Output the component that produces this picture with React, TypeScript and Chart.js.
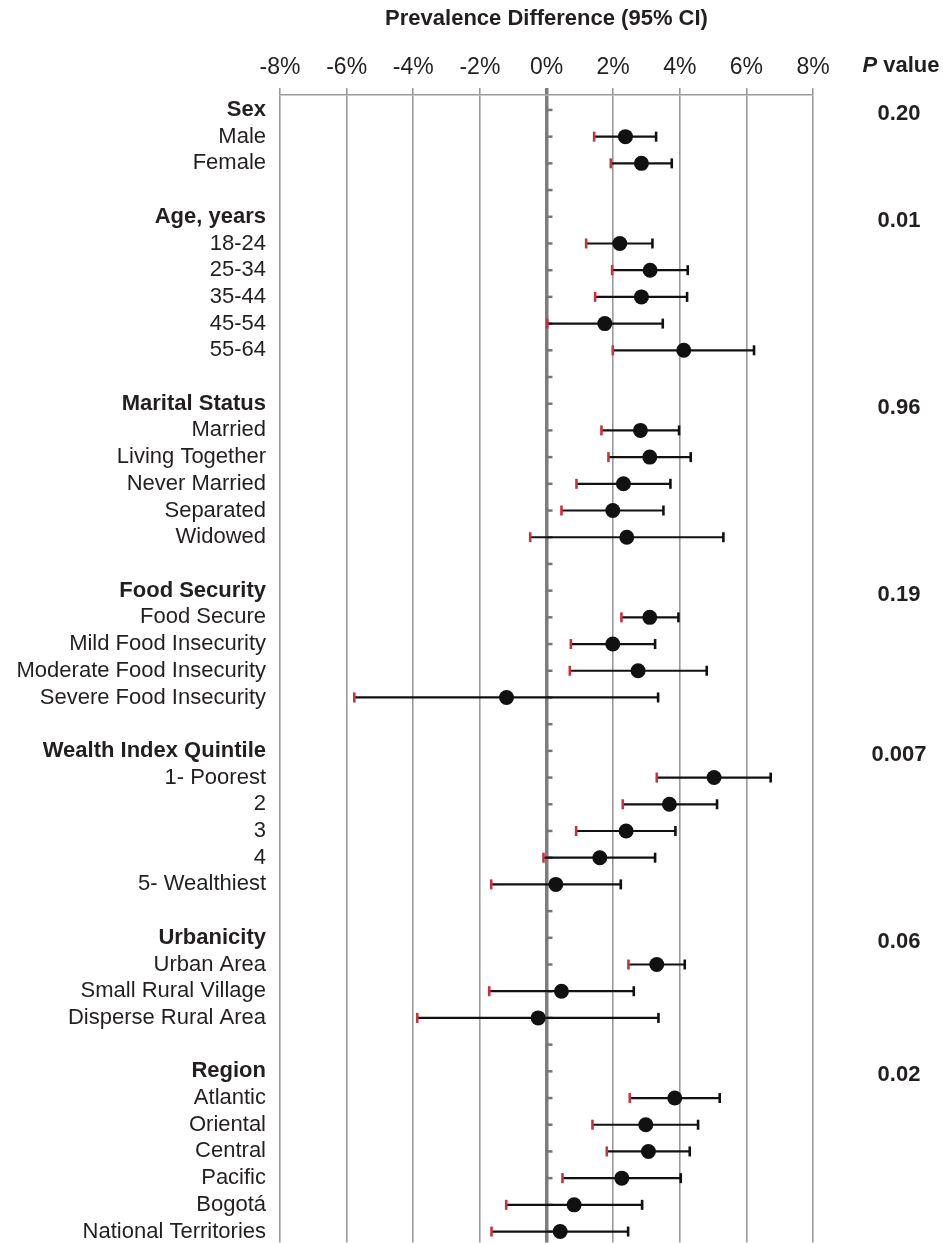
import React, { useEffect, useRef } from "react";
import { Chart, registerables } from "chart.js";

Chart.register(...registerables);

const FONT = "'Liberation Sans', Arial, Helvetica, sans-serif";
const TEXT = "#231f20";
const GRID = "#9a9a9a";
const ZERO = "#7d7d7d";
const LOWCAP = "#c8313f";

// Rows (top to bottom); "" = blank spacer row
const rowLabels = [
  "Sex", "Male", "Female", "",
  "Age, years", "18-24", "25-34", "35-44", "45-54", "55-64", "",
  "Marital Status", "Married", "Living Together", "Never Married", "Separated", "Widowed", "",
  "Food Security", "Food Secure", "Mild Food Insecurity", "Moderate Food Insecurity", "Severe Food Insecurity", "",
  "Wealth Index Quintile", "1- Poorest", "2", "3", "4", "5- Wealthiest", "",
  "Urbanicity", "Urban Area", "Small Rural Village", "Disperse Rural Area", "",
  "Region", "Atlantic", "Oriental", "Central", "Pacific", "Bogotá", "National Territories",
];

const headerRows = ["Sex", "Age, years", "Marital Status", "Food Security", "Wealth Index Quintile", "Urbanicity", "Region"];
const pValues = ["0.20", "0.01", "0.96", "0.19", "0.007", "0.06", "0.02"];

// Prevalence difference (%) and 95% CI, per row (null = header/blank)
const estimate = [
  null, 2.37, 2.85, null,
  null, 2.20, 3.11, 2.85, 1.75, 4.12, null,
  null, 2.82, 3.10, 2.31, 1.99, 2.41, null,
  null, 3.10, 1.99, 2.75, -1.20, null,
  null, 5.03, 3.69, 2.39, 1.60, 0.28, null,
  null, 3.31, 0.45, -0.25, null,
  null, 3.85, 2.98, 3.06, 2.26, 0.83, 0.41,
];
const lowerCI = [
  null, 1.43, 1.93, null,
  null, 1.19, 1.97, 1.46, 0.02, 1.99, null,
  null, 1.65, 1.86, 0.90, 0.45, -0.49, null,
  null, 2.25, 0.73, 0.70, -5.77, null,
  null, 3.31, 2.29, 0.89, -0.09, -1.66, null,
  null, 2.46, -1.72, -3.88, null,
  null, 2.50, 1.38, 1.81, 0.48, -1.21, -1.65,
];
const upperCI = [
  null, 3.29, 3.76, null,
  null, 3.18, 4.24, 4.22, 3.49, 6.23, null,
  null, 3.98, 4.33, 3.72, 3.51, 5.31, null,
  null, 3.96, 3.26, 4.81, 3.35, null,
  null, 6.73, 5.12, 3.87, 3.26, 2.23, null,
  null, 4.15, 2.62, 3.36, null,
  null, 5.20, 4.55, 4.30, 4.03, 2.87, 2.45,
];

const xTicks = [-8, -6, -4, -2, 0, 2, 4, 6, 8];

const forestPlugin = {
  id: "forest",
  beforeDatasetsDraw(chart: any) {
    const { ctx, scales } = chart;
    const xs = scales.x;
    const ys = scales.y;
    ctx.save();
    // small ticks on the zero line at every row
    const x0 = xs.getPixelForValue(0);
    ctx.strokeStyle = "#777";
    ctx.lineWidth = 2.5;
    rowLabels.forEach((_, i) => {
      const y = ys.getPixelForValue(i);
      ctx.beginPath();
      ctx.moveTo(x0, y);
      ctx.lineTo(x0 + 6, y);
      ctx.stroke();
    });
    // CI bars
    estimate.forEach((e, i) => {
      if (e === null) return;
      const y = ys.getPixelForValue(i);
      const xl = xs.getPixelForValue(lowerCI[i] as number);
      const xu = xs.getPixelForValue(upperCI[i] as number);
      ctx.strokeStyle = "#111";
      ctx.lineWidth = 2.2;
      ctx.beginPath();
      ctx.moveTo(xl, y);
      ctx.lineTo(xu, y);
      ctx.stroke();
      ctx.lineWidth = 2.6;
      ctx.beginPath();
      ctx.moveTo(xu, y - 5);
      ctx.lineTo(xu, y + 5);
      ctx.stroke();
      ctx.strokeStyle = LOWCAP;
      ctx.beginPath();
      ctx.moveTo(xl, y - 5);
      ctx.lineTo(xl, y + 5);
      ctx.stroke();
    });
    ctx.restore();
  },
  afterDraw(chart: any) {
    const { ctx, scales, chartArea } = chart;
    const ys = scales.y;
    const cx = chartArea.right + 86;
    ctx.save();
    ctx.fillStyle = TEXT;
    ctx.textBaseline = "middle";
    // "P value" header
    ctx.font = `italic bold 22px ${FONT}`;
    const wP = ctx.measureText("P").width;
    ctx.font = `bold 22px ${FONT}`;
    const wV = ctx.measureText(" value").width;
    const startX = cx + 2 - (wP + wV) / 2;
    const hy = 66;
    ctx.textAlign = "left";
    ctx.font = `italic bold 22px ${FONT}`;
    ctx.fillText("P", startX, hy);
    ctx.font = `bold 22px ${FONT}`;
    ctx.fillText(" value", startX + wP, hy);
    // p values at header rows
    ctx.textAlign = "center";
    headerRows.forEach((h, k) => {
      const idx = rowLabels.indexOf(h);
      const y = ys.getPixelForValue(idx) + 4;
      ctx.fillText(pValues[k], cx, y);
    });
    ctx.restore();
  },
};

export default function App() {
  const ref = useRef<HTMLCanvasElement | null>(null);

  useEffect(() => {
    document.body.style.margin = "0";
    const canvas = ref.current;
    if (!canvas) return;
    const points = estimate
      .map((e, i) => (e === null ? null : { x: e, y: i }))
      .filter((p) => p !== null);

    const chart = new Chart(canvas, {
      type: "scatter",
      data: {
        datasets: [
          {
            data: points as any,
            backgroundColor: "#111",
            borderWidth: 0,
            pointRadius: 7.5,
            pointHoverRadius: 7.5,
          },
        ],
      },
      plugins: [forestPlugin],
      options: {
        animation: false,
        responsive: false,
        devicePixelRatio: 1,
        events: [],
        layout: { padding: { left: 0, right: 130, top: 0, bottom: 0 } },
        plugins: { legend: { display: false }, tooltip: { enabled: false } },
        scales: {
          x: {
            type: "linear",
            position: "top",
            min: -8,
            max: 8,
            afterBuildTicks: (scale: any) => {
              scale.ticks = xTicks.map((v) => ({ value: v }));
            },
            afterFit: (scale: any) => {
              scale.height = 95;
            },
            ticks: {
              callback: (v: any) => `${v}%`,
              font: { family: FONT, size: 23 },
              color: TEXT,
              padding: 7,
              maxRotation: 0,
              autoSkip: false,
            },
            grid: {
              color: (c: any) => (c.tick && c.tick.value === 0 ? ZERO : GRID),
              lineWidth: (c: any) => (c.tick && c.tick.value === 0 ? 3.5 : 1.6),
              tickLength: 7,
              drawTicks: true,
            },
            border: { display: true, color: GRID, width: 1.6 },
            title: {
              display: true,
              text: "Prevalence Difference (95% CI)",
              font: { family: FONT, size: 22, weight: "bold" },
              color: TEXT,
              padding: { top: 6, bottom: 21 },
            },
          },
          y: {
            type: "linear",
            reverse: true,
            min: -0.56,
            max: 42.41,
            afterBuildTicks: (scale: any) => {
              scale.ticks = rowLabels.map((_, i) => ({ value: i }));
            },
            afterFit: (scale: any) => {
              scale.width = 280;
              scale.paddingTop = 0;
              scale.paddingBottom = 0;
            },
            ticks: {
              autoSkip: false,
              callback: (_v: any, i: number) => rowLabels[i],
              color: TEXT,
              padding: 14,
              font: (c: any) => ({
                family: FONT,
                size: 22,
                weight: headerRows.includes(rowLabels[c.index]) ? "bold" : "normal",
              }),
            },
            grid: { display: false, drawTicks: false },
            border: { display: false },
          },
        },
      } as any,
    });
    return () => chart.destroy();
  }, []);

  return (
    <div style={{ position: "absolute", left: 0, top: 0, width: 943, height: 1243, overflow: "hidden", background: "#fff" }}>
      <canvas ref={ref} width={943} height={1250} style={{ display: "block", width: 943, height: 1250 }} />
    </div>
  );
}
